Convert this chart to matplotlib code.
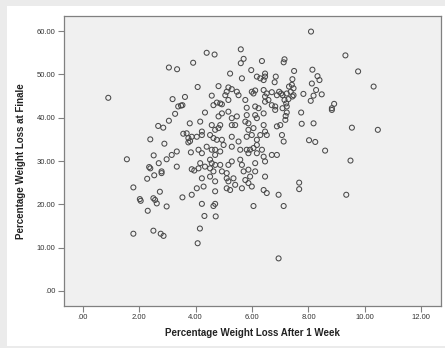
import matplotlib
matplotlib.use("Agg")
import matplotlib.pyplot as plt
from matplotlib.patches import Rectangle
import numpy as np

week1_loss = [
    # left/upper sparse region
    3.05, 3.34, 3.91, 0.90, 3.18, 3.62, 3.53, 3.38, 3.48,
    # upper middle
    4.39, 4.67, 5.60, 5.70, 5.60, 6.35, 7.15, 7.12, 5.22, 5.64, 5.97,
    6.17, 6.29, 6.46, 6.46, 6.41, 6.84, 6.80, 4.07, 4.81, 5.16, 5.28,
    5.10, 5.05, 5.46, 5.52, 5.99, 6.05, 6.11, 6.41, 6.52, 6.46, 6.70,
    6.88, 6.96, 7.03, 7.08, 7.15, 4.57, 4.75, 4.87, 4.63, 4.93, 5.16,
    5.76, 6.46, 6.58, 6.70, 6.82, 5.81, 6.11, 6.23, 6.82, 7.08,
    # upper right
    8.09, 9.31, 9.76, 10.31, 7.49, 8.14, 7.43, 8.32, 8.39, 8.12, 7.41,
    7.47, 7.31, 7.37, 7.23, 7.47, 7.43, 8.27, 7.82, 8.18, 8.47, 8.08,
    7.29, 7.21, 8.91, 8.83, 7.23,
    # right middle
    7.23, 7.19, 7.74, 8.83, 7.76, 8.18, 9.54, 10.46, 8.02, 8.24, 8.59,
    9.49, 7.67, 7.67, 9.34,
    # left middle
    3.27, 3.05, 2.67, 2.85, 3.79, 3.56, 3.68, 3.86, 3.74, 3.74, 3.80,
    2.39, 2.89, 1.56, 2.51, 2.69, 2.97, 3.15, 3.33, 3.83, 2.35, 2.39,
    2.79, 2.79, 2.53, 2.28, 3.33, 3.86, 3.95, 1.79, 2.73, 2.02, 2.50,
    3.53, 3.86,
    # dense centre
    4.33, 4.81, 4.93, 5.16, 5.28, 5.46, 5.81, 6.11, 6.17, 6.41, 7.18,
    4.16, 4.57, 4.87, 4.81, 4.69, 5.28, 5.40, 5.76, 5.87, 5.87, 6.05,
    6.41, 6.46, 6.52, 6.88, 7.00, 4.04, 4.22, 4.22, 4.51, 4.63, 4.75,
    4.93, 4.99, 5.28, 5.52, 5.81, 5.99, 6.17, 6.29, 7.06, 7.12, 4.10,
    4.39, 4.57, 4.69, 4.69, 4.87, 5.28, 5.58, 5.81, 5.93, 6.05, 6.17,
    6.17, 5.87, 6.35, 6.70, 6.88, 6.41, 4.22, 4.16, 4.10, 4.33,
    4.51, 4.57, 4.51, 4.69, 4.63, 4.87, 4.93, 5.10, 5.16, 5.28, 5.58,
    5.64, 5.70, 5.87, 6.11, 6.11, 6.46, 4.22, 4.51, 4.69, 5.10, 5.16,
    5.34, 5.40, 5.76, 5.87, 5.93, 6.46, 4.04, 4.28, 4.69, 5.10, 5.22,
    5.64, 5.99, 6.41, 6.52, 6.94,
    # lower region
    4.22, 4.69, 4.63, 6.05, 7.12, 4.31, 4.71, 4.15, 4.07, 6.94,
    2.05, 2.56, 2.62, 2.97, 2.30, 1.79, 2.50, 2.76, 2.86,
]

finale_loss = [
    51.6, 51.2, 52.7, 44.6, 44.3, 44.8, 42.9, 42.6, 42.8,
    55.0, 54.6, 55.8, 53.6, 52.6, 53.1, 53.5, 52.8, 50.2, 49.1, 51.0,
    49.5, 49.1, 50.2, 49.5, 48.7, 49.5, 48.2, 47.1, 47.3, 47.0, 46.6,
    46.0, 45.2, 46.0, 45.2, 46.0, 45.6, 46.3, 46.4, 45.6, 44.9, 45.9,
    45.2, 46.0, 45.6, 45.2, 44.1, 45.1, 43.5, 43.3, 42.9, 43.1, 44.1,
    44.1, 43.7, 44.1, 42.9, 42.6, 42.3, 42.6, 42.2, 41.8, 42.2,
    59.9, 54.4, 50.7, 47.2, 50.8, 51.1, 48.9, 49.6, 48.7, 47.9, 47.6,
    46.8, 47.2, 46.0, 45.6, 45.2, 44.9, 46.4, 45.5, 45.1, 45.4, 43.9,
    44.3, 43.3, 43.2, 42.2, 42.6,
    41.2, 40.4, 41.2, 41.8, 38.6, 38.7, 37.7, 37.2, 34.8, 34.4, 32.4,
    30.1, 25.0, 23.5, 22.2,
    40.9, 39.3, 38.1, 37.7, 38.7, 36.3, 36.4, 35.6, 35.3, 34.3, 34.6,
    35.0, 34.0, 30.4, 31.3, 29.5, 30.4, 31.4, 32.2, 32.0, 28.6, 28.3,
    27.6, 27.2, 26.7, 25.9, 28.7, 28.1, 27.8, 23.9, 22.9, 21.2, 21.4,
    21.6, 22.2,
    41.2, 40.3, 41.0, 41.4, 39.9, 40.3, 40.6, 40.6, 39.9, 41.0, 39.5,
    39.1, 38.3, 38.3, 37.6, 37.2, 38.3, 38.3, 39.1, 38.7, 37.2, 37.6,
    38.3, 36.8, 36.0, 38.0, 38.3, 35.6, 36.8, 36.0, 36.0, 35.3, 34.9,
    34.9, 33.7, 35.6, 34.5, 35.6, 36.0, 34.9, 36.0, 36.0, 34.5, 32.6,
    33.3, 32.6, 32.6, 31.4, 32.2, 33.3, 32.6, 32.6, 32.6, 33.0, 33.7,
    31.8, 31.8, 32.6, 31.4, 31.4, 31.0, 31.8, 29.5, 28.3, 28.7,
    30.3, 29.5, 28.3, 29.1, 27.6, 29.1, 27.6, 27.2, 29.1, 29.9, 30.3,
    29.1, 27.6, 28.0, 29.5, 27.6, 29.9, 26.0, 26.4, 25.3, 26.0, 25.3,
    26.0, 24.5, 25.6, 24.9, 26.4, 26.4, 23.7, 24.1, 23.0, 23.7, 23.3,
    23.7, 24.1, 23.3, 22.6, 22.2,
    20.1, 20.1, 19.6, 19.6, 19.6, 17.3, 17.2, 14.4, 11.0, 7.5,
    20.8, 21.0, 20.2, 19.5, 18.5, 13.2, 13.9, 13.2, 12.7,
]

x_ticks = [0, 2, 4, 6, 8, 10, 12]
y_ticks = [0, 10, 20, 30, 40, 50, 60]
x_tick_labels = [".00", "2.00", "4.00", "6.00", "8.00", "10.00", "12.00"]
y_tick_labels = [".00", "10.00", "20.00", "30.00", "40.00", "50.00", "60.00"]
x_label = "Percentage Weight Loss After 1 Week"
y_label = "Percentage Weight Loss at Finale"

W, H = 445, 348
fig = plt.figure(figsize=(W / 100, H / 100), dpi=100)
fig.patch.set_facecolor("#ebebeb")
fig.add_artist(Rectangle((7 / W, 2 / H), (W - 7) / W, (H - 8) / H,
                         transform=fig.transFigure, facecolor="white",
                         edgecolor="none", zorder=-10))

ax = fig.add_axes([64 / W, (H - 306) / H, (441 - 64) / W, (306 - 16) / H])
ax.set_zorder(1)
ax.set_facecolor("#f0f0f0")
ax.scatter(week1_loss, finale_loss, s=13, facecolors="none",
           edgecolors="#4a4a4a", linewidths=0.75)

ax.set_xlim(-0.67, 12.7)
ax.set_ylim(-3.5, 63.5)
ax.set_xticks(x_ticks)
ax.set_xticklabels(x_tick_labels)
ax.set_yticks(y_ticks)
ax.set_yticklabels(y_tick_labels)

for s in ax.spines.values():
    s.set_color("#808080")
    s.set_linewidth(0.9)
ax.tick_params(axis="both", direction="out", length=4, width=0.8,
               color="#808080", labelsize=5.5, labelcolor="#333333", pad=2)
for lab in ax.get_xticklabels() + ax.get_yticklabels():
    lab.set_family("Liberation Sans")

ax.set_xlabel(x_label, family="Liberation Sans", fontweight="bold",
              fontsize=7, color="#222222", labelpad=5)
ax.set_ylabel(y_label, family="Liberation Sans", fontweight="bold",
              fontsize=7, color="#222222", labelpad=8)

fig.savefig("out.png", dpi=100, facecolor=fig.get_facecolor())
